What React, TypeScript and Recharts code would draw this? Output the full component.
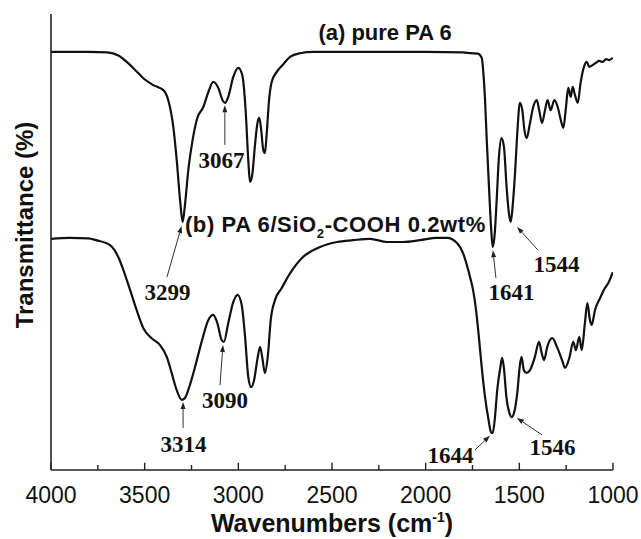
import React from 'react';
import { LineChart, Line, XAxis, YAxis, ReferenceLine, ReferenceDot } from 'recharts';

// ---- data: curve (a) pure PA 6 ----
const wnA = [4000, 3900, 3800, 3700, 3640, 3596, 3543, 3507, 3454, 3400, 3374, 3347, 3329, 3311, 3297, 3285, 3267, 3244, 3219, 3187, 3160, 3134, 3107, 3084, 3071, 3054, 3027, 3000, 2979, 2961, 2947, 2938, 2926, 2911, 2897, 2888, 2878, 2867, 2858, 2849, 2836, 2822, 2795, 2760, 2724, 2671, 2600, 2400, 2200, 2000, 1800, 1760, 1721, 1701, 1692, 1683, 1674, 1662, 1651, 1642, 1631, 1621, 1609, 1595, 1582, 1568, 1556, 1546, 1536, 1523, 1511, 1497, 1484, 1473, 1461, 1443, 1426, 1407, 1394, 1379, 1363, 1349, 1333, 1313, 1295, 1279, 1265, 1251, 1239, 1226, 1215, 1203, 1188, 1173, 1155, 1140, 1127, 1109, 1091, 1074, 1055, 1037, 1020, 1001];
const tA = [91.7, 91.7, 91.7, 91.6, 90.9, 89.5, 87.4, 85.9, 84.4, 83.3, 81.1, 75.2, 68.0, 59.2, 54.4, 58.1, 65.8, 72.4, 77.2, 79.6, 82.9, 85.1, 83.8, 81.1, 80.5, 81.8, 86.2, 88.2, 86.6, 78.9, 68.0, 63.2, 64.7, 71.3, 76.3, 77.2, 74.6, 70.2, 69.5, 73.5, 81.1, 85.1, 87.3, 89.0, 90.6, 91.4, 91.7, 91.7, 91.7, 91.7, 91.6, 91.4, 91.3, 90.4, 87.1, 81.1, 72.4, 62.1, 53.3, 48.9, 52.0, 59.2, 68.6, 72.8, 70.8, 62.1, 56.4, 54.4, 57.7, 65.1, 73.9, 80.5, 78.9, 74.6, 72.8, 76.1, 79.6, 81.1, 78.9, 76.1, 78.9, 81.1, 78.9, 81.1, 79.6, 76.8, 75.0, 79.6, 83.8, 81.8, 84.0, 82.2, 80.5, 84.9, 88.4, 89.5, 88.4, 88.8, 89.3, 89.7, 89.5, 90.1, 89.9, 90.4];

// ---- data: curve (b) PA 6/SiO2-COOH 0.2wt% ----
const wnB = [4000, 3900, 3800, 3760, 3685, 3641, 3614, 3578, 3543, 3507, 3463, 3418, 3382, 3356, 3329, 3302, 3285, 3262, 3231, 3196, 3160, 3134, 3112, 3089, 3077, 3054, 3027, 3004, 2982, 2964, 2947, 2932, 2916, 2899, 2884, 2872, 2858, 2843, 2827, 2804, 2770, 2724, 2655, 2564, 2473, 2388, 2297, 2206, 2121, 2030, 1940, 1886, 1833, 1801, 1763, 1747, 1733, 1716, 1701, 1683, 1666, 1651, 1642, 1630, 1618, 1601, 1592, 1583, 1569, 1553, 1541, 1527, 1511, 1497, 1488, 1476, 1461, 1443, 1417, 1395, 1381, 1368, 1351, 1324, 1299, 1272, 1256, 1233, 1212, 1198, 1180, 1167, 1150, 1137, 1123, 1114, 1096, 1069, 1043, 1025, 1001];
const tB = [50.7, 50.9, 50.8, 50.4, 49.3, 46.7, 43.9, 39.5, 35.1, 31.1, 28.9, 27.4, 24.8, 21.3, 17.5, 15.4, 15.8, 18.2, 22.6, 28.1, 32.9, 34.0, 32.2, 28.5, 28.1, 32.2, 36.8, 38.4, 36.2, 29.2, 20.4, 18.2, 19.7, 24.1, 27.0, 24.6, 21.3, 24.8, 32.9, 37.3, 39.8, 43.1, 46.7, 48.9, 50.0, 50.4, 50.7, 50.0, 50.0, 50.4, 50.9, 50.9, 49.8, 47.6, 42.3, 39.5, 35.7, 29.2, 22.6, 16.0, 11.4, 8.3, 8.1, 11.6, 17.5, 22.6, 24.6, 22.6, 16.0, 12.5, 11.6, 12.7, 16.9, 23.0, 24.8, 21.9, 21.3, 21.9, 24.8, 28.1, 25.7, 24.1, 27.0, 28.9, 27.0, 24.1, 22.4, 24.6, 28.1, 26.3, 29.2, 26.3, 32.2, 36.6, 32.9, 31.8, 35.1, 37.7, 39.9, 41.0, 43.4];

// ---- axis ticks ----
const xTicks = [4000, 3750, 3500, 3250, 3000, 2750, 2500, 2250, 2000, 1750, 1500, 1250, 1000];

// ---- series captions ----
const captionA = '(a) pure PA 6';
const captionAWn = 2217;
const captionAT = 94.3;
const captionBWn = 3285;
const captionBT = 52.3;

// ---- peak annotations ----
const peakLabels = ['3067', '3299', '3314', '3090', '1641', '1544', '1644', '1546'];
const peakLabelWn = [3090, 3378, 3293, 3071, 1542, 1302, 1867, 1323];
const peakLabelT = [66.2, 37.3, 3.9, 13.6, 37.3, 43.4, 1.5, 3.3];
const arrowFromWn = [3072, 3381, 3295, 3098, 1625, 1400, 1737, 1379];
const arrowFromT = [71.3, 42.3, 9.2, 18.6, 42.1, 48.2, 4.4, 7.7];
const arrowToWn = [3072, 3303, 3295, 3082, 1641, 1512, 1657, 1513];
const arrowToT = [80.0, 53.5, 14.9, 27.4, 48.2, 53.3, 7.5, 11.4];

const dataA = wnA.map((w, i) => ({ wn: w, t: tA[i] }));
const dataB = wnB.map((w, i) => ({ wn: w, t: tB[i] }));

const SANS = '"Liberation Sans", Arial, sans-serif';
const SERIF = '"Liberation Serif", "Times New Roman", serif';

const ArrowShape = (p: any) => {
  const { x1, y1, x2, y2 } = p;
  const dx = x2 - x1;
  const dy = y2 - y1;
  const len = Math.hypot(dx, dy) || 1;
  const ux = dx / len;
  const uy = dy / len;
  const hl = 7;
  const hw = 2.5;
  const bx = x2 - ux * hl;
  const by = y2 - uy * hl;
  return (
    <g>
      <line x1={x1} y1={y1} x2={bx} y2={by} stroke="#333" strokeWidth={1} />
      <polygon
        points={`${x2},${y2} ${bx - uy * hw},${by + ux * hw} ${bx + uy * hw},${by - ux * hw}`}
        fill="#222"
      />
    </g>
  );
};

const TickShape = (p: any) => {
  const { x1, y1, x2, y2 } = p;
  return <line x1={x1} y1={y1} x2={x2} y2={y2} stroke="#222" strokeWidth={1.4} />;
};

const peakText = (txt: string) => (p: any) => (
  <text x={p.cx} y={p.cy} textAnchor="middle" fontFamily={SERIF} fontWeight="bold" fontSize={23} fill="#111">
    {txt}
  </text>
);

const captionAShape = (p: any) => (
  <text x={p.cx} y={p.cy} textAnchor="middle" fontFamily={SANS} fontWeight="bold" fontSize={22} fill="#111">
    {captionA}
  </text>
);

const captionBShape = (p: any) => (
  <text x={p.cx} y={p.cy} textAnchor="start" fontFamily={SANS} fontWeight="bold" fontSize={22} letterSpacing={0.6} fill="#111">
    <tspan>(b) PA 6/SiO</tspan>
    <tspan fontSize={13} dy={6}>2</tspan>
    <tspan dy={-6}>-COOH 0.2wt%</tspan>
  </text>
);

const XTitle = (props: any) => {
  const vb = props.viewBox;
  return (
    <text x={vb.x + vb.width / 2} y={vb.y + 62} textAnchor="middle" fontFamily={SANS} fontWeight="bold" fontSize={25} fill="#111">
      <tspan>Wavenumbers (cm</tspan>
      <tspan fontSize={14} dy={-10}>-1</tspan>
      <tspan dy={10}>)</tspan>
    </text>
  );
};

const YTitle = (props: any) => {
  const vb = props.viewBox;
  const cx = vb.x + 33;
  const cy = vb.y + vb.height / 2 - 17;
  return (
    <text x={cx} y={cy} transform={`rotate(-90, ${cx}, ${cy})`} textAnchor="middle" fontFamily={SANS} fontWeight="bold" fontSize={24} fill="#111">
      Transmittance (%)
    </text>
  );
};

export default function App() {
  return (
    <div style={{ position: 'absolute', left: 0, top: 0, width: 641, height: 539, background: '#fff' }}>
      <LineChart width={641} height={539} margin={{ top: 14, right: 28, bottom: 0, left: 0 }}>
        <XAxis
          xAxisId={0}
          dataKey="wn"
          type="number"
          domain={[1000, 4000]}
          reversed
          ticks={xTicks}
          interval={0}
          allowDataOverflow
          height={69}
          tickSize={-7}
          tickMargin={24}
          tickFormatter={(v: number) => (v % 500 === 0 ? String(v) : '')}
          tick={{ fontSize: 23, fill: '#111', fontFamily: SANS }}
          axisLine={{ stroke: '#222', strokeWidth: 1.6 }}
          tickLine={false}
          label={<XTitle />}
        />
        <XAxis
          xAxisId="top"
          orientation="top"
          dataKey="wn"
          type="number"
          domain={[1000, 4000]}
          reversed
          height={0}
          tick={false}
          tickLine={false}
          axisLine={{ stroke: '#222', strokeWidth: 1.6 }}
        />
        <YAxis
          yAxisId={0}
          type="number"
          domain={[0, 100]}
          width={51}
          tick={false}
          tickLine={false}
          axisLine={{ stroke: '#222', strokeWidth: 1.6 }}
          label={<YTitle />}
        />
        <YAxis
          yAxisId="right"
          orientation="right"
          type="number"
          domain={[0, 100]}
          width={0}
          tick={false}
          tickLine={false}
          axisLine={{ stroke: '#222', strokeWidth: 1.6 }}
        />
        {xTicks.map((v) => (
          <ReferenceLine
            key={'tk' + v}
            segment={[
              { x: v, y: 0 },
              { x: v, y: v % 500 === 0 ? 1.6 : 1.1 },
            ]}
            shape={TickShape}
            ifOverflow="visible"
          />
        ))}
        <Line
          data={dataA}
          dataKey="t"
          type="monotone"
          stroke="#111"
          strokeWidth={2.2}
          dot={false}
          activeDot={false}
          isAnimationActive={false}
        />
        <Line
          data={dataB}
          dataKey="t"
          type="monotone"
          stroke="#111"
          strokeWidth={2.2}
          dot={false}
          activeDot={false}
          isAnimationActive={false}
        />
        {peakLabels.map((lab, i) => (
          <ReferenceLine
            key={'arr' + lab}
            segment={[
              { x: arrowFromWn[i], y: arrowFromT[i] },
              { x: arrowToWn[i], y: arrowToT[i] },
            ]}
            shape={ArrowShape}
            ifOverflow="visible"
          />
        ))}
        {peakLabels.map((lab, i) => (
          <ReferenceDot
            key={'lab' + lab}
            x={peakLabelWn[i]}
            y={peakLabelT[i]}
            r={0}
            shape={peakText(lab)}
            ifOverflow="visible"
          />
        ))}
        <ReferenceDot x={captionAWn} y={captionAT} r={0} shape={captionAShape} ifOverflow="visible" />
        <ReferenceDot x={captionBWn} y={captionBT} r={0} shape={captionBShape} ifOverflow="visible" />
      </LineChart>
    </div>
  );
}
